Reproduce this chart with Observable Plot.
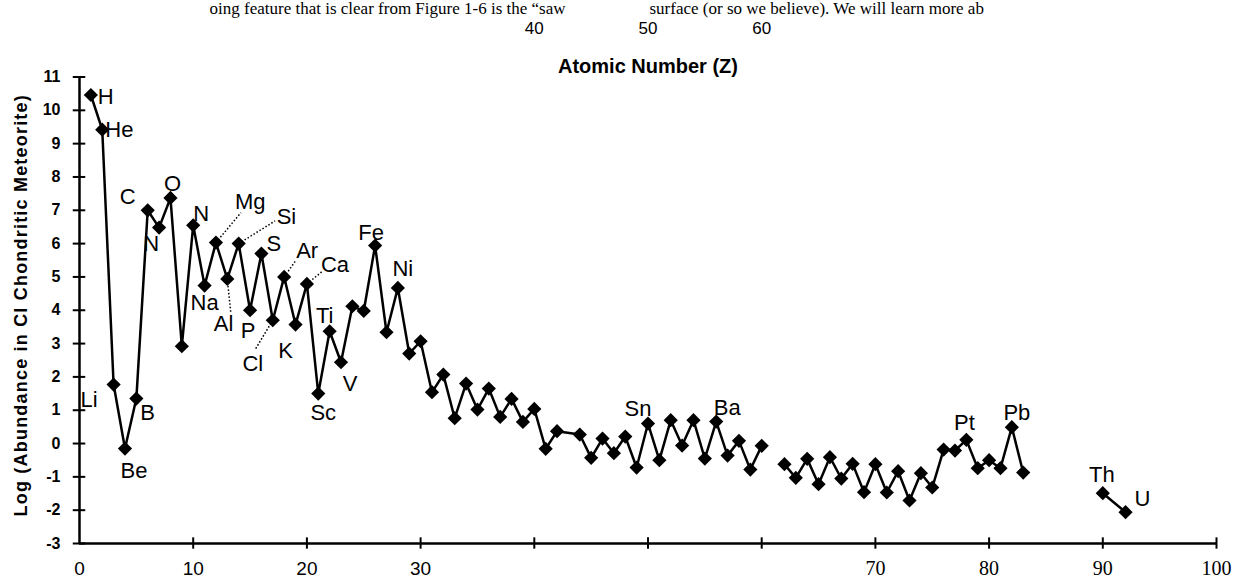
<!DOCTYPE html>
<html>
<head>
<meta charset="utf-8">
<script src="https://cdn.jsdelivr.net/npm/d3@7"></script>
<script src="https://cdn.jsdelivr.net/npm/@observablehq/plot@0.6"></script>
<style>
  html, body { margin: 0; padding: 0; background: #fff; }
  #chart { width: 1245px; height: 581px; overflow: hidden; }
  #chart svg { display: block; }
</style>
</head>
<body>
<div id="chart"></div>
<script>
// ---------- data ----------
const atomicNumbers = [1,2,3,4,5,6,7,8,9,10,11,12,13,14,15,16,17,18,19,20,
  21,22,23,24,25,26,27,28,29,30,31,32,33,34,35,36,37,38,39,40,41,42,44,45,46,47,48,49,50,
  51,52,53,54,55,56,57,58,59,60,61,62,63,64,65,66,67,68,69,70,71,72,73,74,75,76,77,78,79,80,
  81,82,83,84,90,92];
const elementSymbols = ["H","He","Li","Be","B","C","N","O","F","Ne","Na","Mg","Al","Si","P","S","Cl","Ar","K","Ca",
  "Sc","Ti","V","Cr","Mn","Fe","Co","Ni","Cu","Zn","Ga","Ge","As","Se","Br","Kr","Rb","Sr","Y","Zr","Nb","Mo","Ru","Rh","Pd","Ag","Cd","In","Sn",
  "Sb","Te","I","Xe","Cs","Ba","La","Ce","Pr","Nd","Pm","Sm","Eu","Gd","Tb","Dy","Ho","Er","Tm","Yb","Lu","Hf","Ta","W","Re","Os","Ir","Pt","Au","Hg",
  "Tl","Pb","Bi","Po","Th","U"];
// log abundance in CI chondrites (Si = 10^6); null = no value (gap in the line)
const logAbundance = [10.46,9.42,1.77,-0.15,1.35,7.0,6.48,7.37,2.92,6.55,4.74,6.03,4.94,6.0,4.0,5.7,3.7,5.0,3.57,4.79,
  1.5,3.37,2.44,4.12,3.98,5.94,3.34,4.67,2.7,3.07,1.54,2.07,0.76,1.8,1.02,1.65,0.8,1.34,0.65,1.04,-0.16,0.37,0.27,-0.43,0.15,-0.29,0.21,-0.72,0.6,
  -0.5,0.7,-0.06,0.7,-0.45,0.66,-0.36,0.08,-0.78,-0.07,null,-0.62,-1.03,-0.46,-1.22,-0.41,-1.05,-0.61,-1.46,-0.62,-1.47,-0.83,-1.71,-0.89,-1.32,-0.18,-0.21,0.11,-0.74,-0.5,
  -0.74,0.49,-0.87,null,-1.49,-2.06];

// element labels drawn on the chart (text, atomic number of the point it belongs to)
const labelTexts = ["H","He","Li","Be","B","C","N","O","N","Na","Al","Mg","Si","S","Ar","Ca","Fe","Ni","P","Cl","K","Ti","V","Sc","Sn","Ba","Pt","Pb","Th","U"];
const labelZ     = [1,2,3,4,5,6,7,8,10,11,13,12,14,16,18,20,26,28,15,17,19,22,23,21,50,56,78,82,90,92];

// dotted leader lines: from the element's point toward its label
const leaderZ = [12,14,18,20,13,17];

const yTickValues = [-3,-2,-1,0,1,2,3,4,5,6,7,8,9,10,11];
const xTickValues = [10,20,30,40,50,60,70,80,90,100];
const lowerSansTicks = [0,10,20,30];
const lowerSerifTicks = [70,80,90,100];
const upperTicks = [40,50,60];

const xTitle = "Atomic Number (Z)";
const yTitle = "Log (Abundance in CI Chondritic Meteorite)";
const bodyTextLeft = "oing feature that is clear from Figure 1-6 is the \u201csaw";
const bodyTextRight = "surface (or so we believe). We will learn more ab";

// ---------- layout ----------
const rows = atomicNumbers.map((z, i) => ({z, symbol: elementSymbols[i], v: logAbundance[i]}));
const byZ = new Map(rows.map(d => [d.z, d]));

// label placement (pixels relative to the point)
const labelLayout = {
  "H@1":  {dx: 7,   dy: 2,   anchor: "start"},
  "He@2": {dx: 3,   dy: 0,   anchor: "start"},
  "Li@3": {dx: -16, dy: 15,  anchor: "end"},
  "Be@4": {dx: 9,   dy: 22,  anchor: "middle"},
  "B@5":  {dx: 4,   dy: 14,  anchor: "start"},
  "C@6":  {dx: -12, dy: -13, anchor: "end"},
  "N@7":  {dx: -8,  dy: 16,  anchor: "middle"},
  "O@8":  {dx: 2,   dy: -14, anchor: "middle"},
  "N@10": {dx: 0,   dy: -11, anchor: "start"},
  "Na@11":{dx: 0,   dy: 17,  anchor: "middle"},
  "Al@13":{dx: 6,   dy: 45,  anchor: "end"},
  "Mg@12":{dx: 19,  dy: -41, anchor: "start"},
  "Si@14":{dx: 38,  dy: -27, anchor: "start"},
  "S@16": {dx: 5,   dy: -10, anchor: "start"},
  "Ar@18":{dx: 12,  dy: -26, anchor: "start"},
  "Ca@20":{dx: 14,  dy: -19, anchor: "start"},
  "Fe@26":{dx: -4,  dy: -13, anchor: "middle"},
  "Ni@28":{dx: 5,   dy: -19, anchor: "middle"},
  "P@15": {dx: -2,  dy: 21,  anchor: "middle"},
  "Cl@17":{dx: -20, dy: 44,  anchor: "middle"},
  "K@19": {dx: -10, dy: 26,  anchor: "middle"},
  "Ti@22":{dx: -5,  dy: -15, anchor: "middle"},
  "V@23": {dx: 9,   dy: 22,  anchor: "middle"},
  "Sc@21":{dx: 5,   dy: 19,  anchor: "middle"},
  "Sn@50":{dx: -10, dy: -15, anchor: "middle"},
  "Ba@56":{dx: 11,  dy: -14, anchor: "middle"},
  "Pt@78":{dx: -2,  dy: -17, anchor: "middle"},
  "Pb@82":{dx: 5,   dy: -14, anchor: "middle"},
  "Th@90":{dx: -1,  dy: -18, anchor: "middle"},
  "U@92": {dx: 9,   dy: -13, anchor: "start"}
};
// leader end offsets (in axis units) from the point
const leaderLayout = {12: [2.2, 0.9], 14: [3.2, 0.68], 18: [1.0, 0.48], 20: [1.4, 0.39], 13: [0.3, -1.0], 17: [-1.5, -0.85]};

const sans = "'Liberation Sans', Arial, Helvetica, sans-serif";
const serif = "'Liberation Serif', 'Times New Roman', serif";

const labelMarks = labelTexts.map((t, i) => {
  const p = byZ.get(labelZ[i]);
  const L = labelLayout[t + "@" + labelZ[i]];
  return Plot.text([p], {x: "z", y: "v", text: () => t, dx: L.dx, dy: L.dy, textAnchor: L.anchor,
    fontSize: 22, fontFamily: sans, fill: "black"});
});

const leaderRows = leaderZ.map(z => {
  const p = byZ.get(z), o = leaderLayout[z];
  return {x1: p.z, y1: p.v, x2: p.z + o[0], y2: p.v + o[1]};
});

const chart = Plot.plot({
  width: 1245,
  height: 581,
  marginLeft: 79,
  marginRight: 29,
  marginTop: 76.5,
  marginBottom: 38,
  x: {domain: [0, 100], axis: null},
  y: {domain: [-3, 11], axis: null},
  style: {background: "white", overflow: "visible", fontFamily: sans, color: "black"},
  marks: [
    // axes
    Plot.ruleY([-3], {x1: () => 0, x2: () => 100, stroke: "black", strokeWidth: 2.5}),
    Plot.ruleX([0], {y1: () => -3, y2: () => 11, stroke: "black", strokeWidth: 2.5}),
    Plot.ruleY(yTickValues, {x1: () => -0.55, x2: () => 0.55, stroke: "black", strokeWidth: 2}),
    Plot.ruleX(xTickValues, {y1: () => -3.17, y2: () => -2.83, stroke: "black", strokeWidth: 2}),
    // y tick labels
    Plot.text(yTickValues, {x: () => 0, y: d => d, text: d => String(d), dx: -19, textAnchor: "end",
      fontWeight: "bold", fontSize: 16, fontFamily: sans}),
    // x tick labels (as printed: some below the axis, some displaced above the chart)
    Plot.text(lowerSansTicks, {x: d => d, frameAnchor: "bottom", dy: 31, text: d => String(d), fontSize: 19, fontFamily: sans}),
    Plot.text(lowerSerifTicks, {x: d => d, frameAnchor: "bottom", dy: 31, text: d => String(d), fontSize: 20, fontFamily: serif}),
    Plot.text(upperTicks, {x: d => d, frameAnchor: "top", dy: -55, text: d => String(d), fontSize: 17, fontFamily: sans}),
    // titles
    Plot.text([xTitle], {x: () => 50, frameAnchor: "top", dy: -18, text: d => d, fontWeight: "bold", fontSize: 20, fontFamily: sans}),
    Plot.text([yTitle], {frameAnchor: "left", textAnchor: "middle", dx: -58, dy: -5, rotate: -90, text: d => d, fontWeight: "bold", fontSize: 18, fontFamily: sans}),
    // body text of the page above the figure
    Plot.text([bodyTextLeft], {frameAnchor: "top-left", dx: 486, dy: -63, text: d => d, textAnchor: "end", lineAnchor: "bottom", fontSize: 17, fontFamily: serif}),
    Plot.text([bodyTextRight], {frameAnchor: "top-left", dx: 570, dy: -63, text: d => d, textAnchor: "start", lineAnchor: "bottom", fontSize: 17, fontFamily: serif}),
    // leader lines
    Plot.link(leaderRows, {x1: "x1", y1: "y1", x2: "x2", y2: "y2", stroke: "black", strokeWidth: 1.5, strokeDasharray: "1.5,2"}),
    // data
    Plot.line(rows, {x: "z", y: "v", stroke: "black", strokeWidth: 2.5}),
    Plot.dot(rows.filter(d => d.v != null), {x: "z", y: "v", symbol: "diamond2", r: 6.4, fill: "black", stroke: "none"}),
    ...labelMarks
  ]
});
d3.select(chart).selectAll("text").filter(function () { return this.textContent === yTitle; })
  .style("letter-spacing", "1.2px");
document.getElementById("chart").appendChild(chart);
</script>
</body>
</html>
